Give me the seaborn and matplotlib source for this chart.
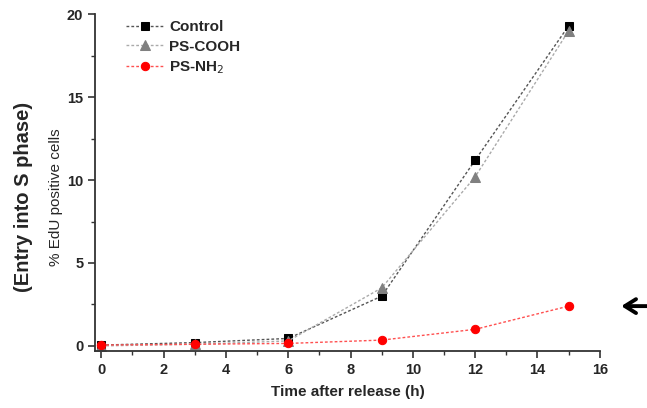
import pandas as pd
import matplotlib.pyplot as plt
import seaborn as sns
from matplotlib.ticker import MultipleLocator

# Values
time_h = [0, 3, 6, 9, 12, 15]
control = [0.05, 0.2, 0.45, 3.0, 11.2, 19.3]
ps_cooh = [0.0, 0.1, 0.3, 3.5, 10.2, 19.0]
ps_nh2 = [0.05, 0.1, 0.15, 0.35, 1.0, 2.4]

series = {"Control": control, "PS-COOH": ps_cooh, "PS-NH$_2$": ps_nh2}
frames = []
for name, vals in series.items():
    frames.append(pd.DataFrame({"time": time_h, "edu": vals, "group": name}))
df = pd.concat(frames, ignore_index=True)

sns.set_style("ticks")
plt.rcParams["font.family"] = ["Liberation Sans", "DejaVu Sans"]

fig = plt.figure(figsize=(6.47, 4.08), dpi=100)
ax = fig.add_axes([0.147, 0.14, 0.78, 0.825])

styles = {
    "Control": dict(color="#555555", marker="s", markerfacecolor="black",
                    markeredgecolor="black", markersize=6),
    "PS-COOH": dict(color="#aaaaaa", marker="^", markerfacecolor="#808080",
                    markeredgecolor="#808080", markersize=7),
    "PS-NH$_2$": dict(color="#ff5050", marker="o", markerfacecolor="#ff0000",
                      markeredgecolor="#ff0000", markersize=6),
}
for name in series:
    sub = df[df["group"] == name]
    sns.lineplot(data=sub, x="time", y="edu", ax=ax, label=name,
                 linestyle=(0, (2, 1.5)), linewidth=1.0, **styles[name])

ax.set_xlim(-0.2, 16)
ax.set_ylim(-0.3, 20)
ax.xaxis.set_major_locator(MultipleLocator(2))
ax.xaxis.set_minor_locator(MultipleLocator(1))
ax.yaxis.set_major_locator(MultipleLocator(5))
ax.yaxis.set_minor_locator(MultipleLocator(2.5))
ax.tick_params(which="major", length=5, width=1.2, labelsize=10.5, color="#333333")
ax.tick_params(which="minor", length=3, width=1.0, color="#333333")
for lab in ax.get_xticklabels() + ax.get_yticklabels():
    lab.set_fontweight("bold")
for sp in ["top", "right"]:
    ax.spines[sp].set_visible(False)
for sp in ["left", "bottom"]:
    ax.spines[sp].set_linewidth(1.3)
    ax.spines[sp].set_color("#333333")

ax.set_xlabel("Time after release (h)", fontsize=11, fontweight="bold", labelpad=6)
ax.set_ylabel("% EdU positive cells", fontsize=11)
ax.yaxis.set_label_coords(-0.064, 0.456)
fig.text(0.036, 0.517, "(Entry into S phase)", rotation=90, fontsize=14.5,
         fontweight="bold", ha="center", va="center")

leg = ax.legend(loc="upper left", bbox_to_anchor=(0.05, 1.0), frameon=False,
                fontsize=11, handlelength=2.4, handletextpad=0.4,
                labelspacing=0.35, borderaxespad=0)
for t in leg.get_texts():
    t.set_fontweight("bold")

# arrow pointing at the PS-NH2 end point
ax.annotate("", xy=(16.6, 2.4), xytext=(17.6, 2.4), xycoords="data",
            annotation_clip=False,
            arrowprops=dict(arrowstyle="->,head_length=0.8,head_width=0.5",
                            color="black", lw=2.8))

fig.savefig("out.png", dpi=100)
